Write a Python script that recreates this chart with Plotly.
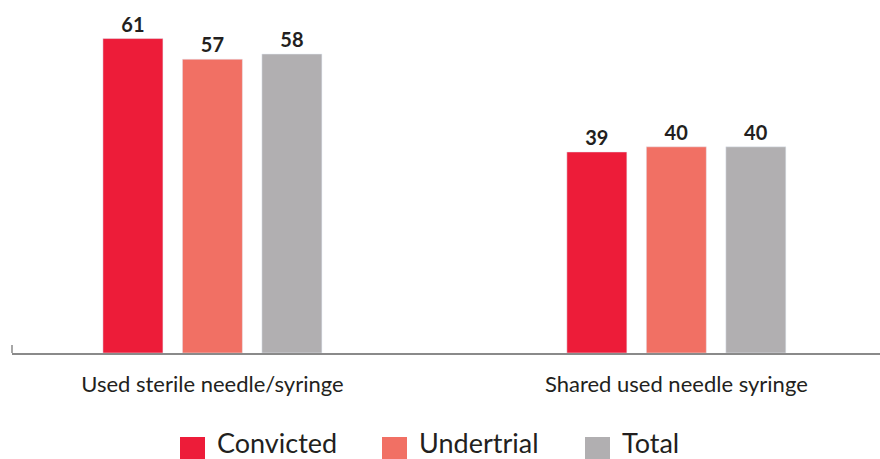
import plotly.graph_objects as go

categories = ["Used sterile needle/syringe", "Shared used needle syringe"]
series_names = ["Convicted", "Undertrial", "Total"]
convicted = [61, 39]
undertrial = [57, 40]
total = [58, 40]
values = [convicted, undertrial, total]
colors = ["#ED1C39", "#F17064", "#B1AFB1"]

W, H = 880, 459
L, R, T, B = 12, 0, 20, 106
pw, ph = W - L - R, H - T - B

def px_x(p):
    return (p - L) / pw

def px_y(p):
    return (H - B - p) / ph

fig = go.Figure()
for name, vals, col in zip(series_names, values, colors):
    fig.add_trace(go.Bar(
        x=categories, y=vals, name=name, marker_color=col,
        text=[str(v) for v in vals], textposition="outside",
        textfont=dict(family="Lato", size=20, color="#231F20", weight="bold"),
        cliponaxis=False, showlegend=False,
    ))

# custom legend (large squares like the reference)
leg_sq_x = [180, 382, 585]
shapes = []
annotations = []
for name, col, sx in zip(series_names, colors, leg_sq_x):
    shapes.append(dict(type="rect", xref="paper", yref="paper",
                       x0=px_x(sx), x1=px_x(sx + 25), y0=px_y(461), y1=px_y(437),
                       fillcolor=col, line=dict(width=0)))
    annotations.append(dict(xref="paper", yref="paper", x=px_x(sx + 35), y=px_y(442),
                            text=name, showarrow=False, xanchor="left", yanchor="middle",
                            font=dict(family="Lato", size=27, color="#231F20")))

# small tick at left of baseline
shapes.append(dict(type="line", xref="paper", yref="paper", x0=0, x1=0,
                   y0=0, y1=px_y(345), line=dict(color="#8A8A8A", width=1.5)))

fig.update_layout(
    width=W, height=H,
    margin=dict(l=L, r=R, t=T, b=B, autoexpand=False),
    plot_bgcolor="white", paper_bgcolor="white",
    barmode="group", bargap=0.486, bargroupgap=0.245,
    shapes=shapes, annotations=annotations,
    showlegend=False,
    font=dict(family="Lato", color="#231F20"),
)
fig.update_xaxes(range=[-0.432, 1.439], showline=True, linecolor="#8A8A8A", linewidth=2,
                 ticks="", showgrid=False, automargin=False,
                 tickfont=dict(family="Lato", size=22, color="#231F20"),
                 ticklabelstandoff=11)
fig.update_yaxes(range=[0, 64.6], visible=False, showgrid=False, automargin=False)

fig.write_html("out.html", config={"displayModeBar": False},
               post_script="document.body.style.margin='0';document.body.style.overflow='hidden';")
